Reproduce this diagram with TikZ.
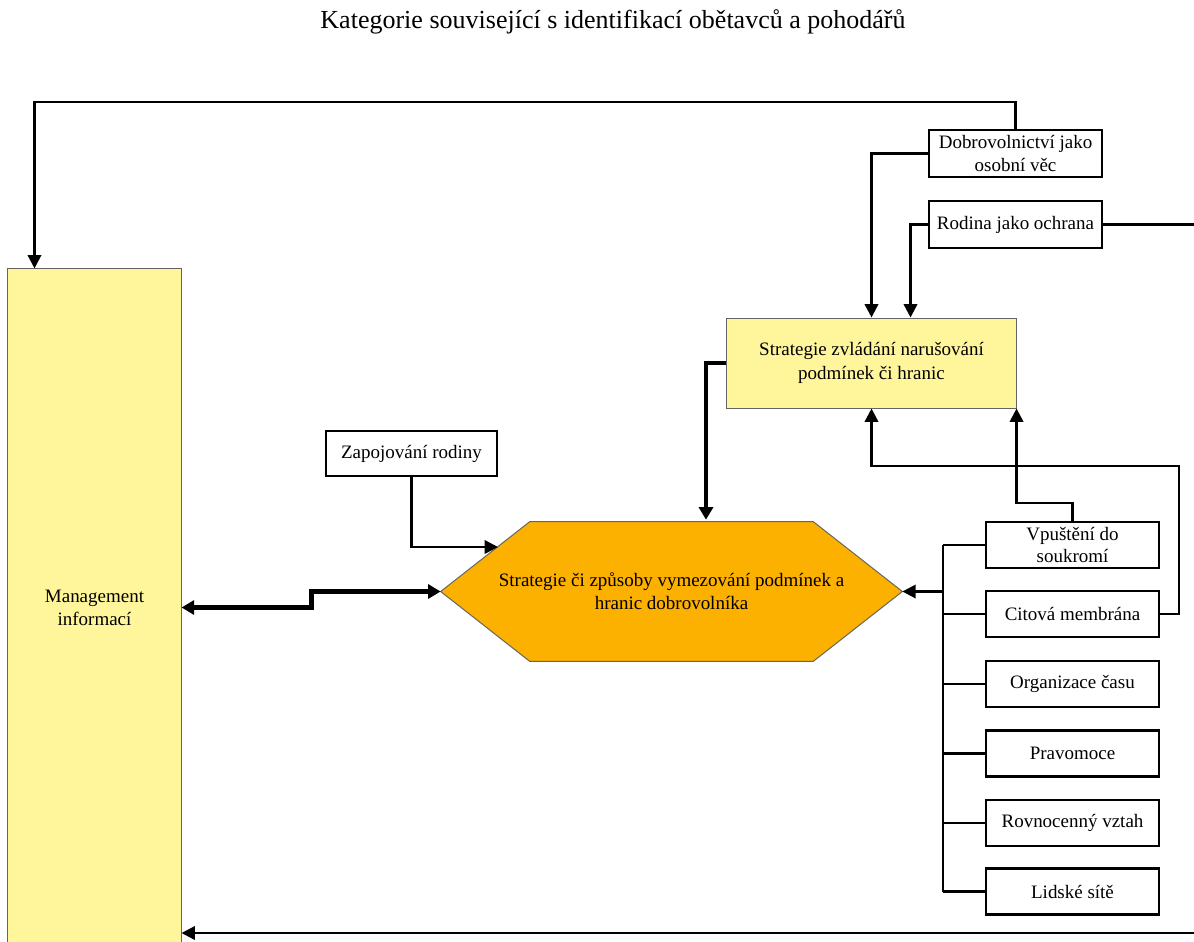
\documentclass[tikz,border=0pt]{standalone}
\usepackage{fontspec}
\setmainfont{Liberation Serif}
\usetikzlibrary{arrows.meta,calc,backgrounds}
\definecolor{pale}{RGB}{255,245,155}
\definecolor{amber}{RGB}{252,176,0}
\definecolor{rim}{RGB}{100,100,100}
\tikzset{
  box/.style={draw,line width=1.6pt,fill=white,minimum width=4.325cm,minimum height=1.15cm,
    inner sep=1pt,align=center,font=\fontsize{13.5}{16}\selectfont},
  yellowbox/.style={draw=rim,line width=0.7pt,fill=pale,inner sep=1pt,align=center,
    font=\fontsize{13.5}{16.5}\selectfont},
  link/.style={line width=1.7pt,-{Triangle[length=9.5pt,width=9.5pt]}},
  plain/.style={line width=1.7pt},
  fatlink/.style={line width=3pt,-{Triangle[length=9pt,width=10pt]}}
}
\begin{document}
\begin{tikzpicture}[x=0.025cm,y=-0.025cm]
\def\dx{89};
\clip (0,0) rectangle (1194,941);
\node[font=\fontsize{18.5}{21}\selectfont] (title) at (613,22) {Kategorie související s identifikací obětavců a pohodářů};
\coordinate (bus) at (943,0);
\coordinate (edge) at (1194,0);
\node[yellowbox,minimum width=4.325cm,minimum height=16.925cm] (mgmt) at (94.5,607.5) {Management\\informací};
\node[yellowbox,minimum width=7.225cm,minimum height=2.25cm] (zvladani) at (871.5,363) {Strategie zvládání narušování\\podmínek či hranic};
\node[align=center,inner sep=0pt,minimum width=11.525cm,minimum height=3.475cm,font=\fontsize{13.5}{16.5}\selectfont] (hex) at (671.5,591.5) {Strategie či způsoby vymezování podmínek a\\hranic dobrovolníka};
\begin{pgfonlayer}{background}
\filldraw[draw=rim,line width=0.7pt,fill=amber] (hex.west) -- ($(hex.north west)+(\dx,0)$) -- ($(hex.north east)+(-\dx,0)$) -- (hex.east) -- ($(hex.south east)+(-\dx,0)$) -- ($(hex.south west)+(\dx,0)$) -- cycle;
\end{pgfonlayer}
\node[box,minimum height=1.175cm] (dobr) at (1015.5,153.5) {Dobrovolnictví jako\\osobní věc};
\node[box,minimum height=1.175cm] (rodina) at (1015.5,224.5) {Rodina jako ochrana};
\node[box,minimum width=4.275cm,minimum height=1.125cm] (zapoj) at (411.5,453.5) {Zapojování rodiny};
\foreach \name/\y/\txt in {vpust/545/{Vpuštění do\\soukromí},citova/614/{Citová membrána},organ/684/{Organizace času},prav/753.5/{Pravomoce},rovn/823/{Rovnocenný vztah},lidske/891.5/{Lidské sítě}} {
  \node[box] (\name) at (1072.5,\y) {\txt};
  \draw[plain] (\name.west) -- (\name.west -| bus);
}
\draw[plain] (vpust.west -| bus) -- (lidske.west -| bus);
\draw[link] (hex.east -| bus) -- (hex.east);
\draw[link] (dobr.north) -- ++(0,-27) -| ($(mgmt.north west)+(27,0)$);
\draw[link] (dobr.west) -| (zvladani.north);
\draw[link] (rodina.west) -| ($(zvladani.north)+(39,0)$);
\draw[plain] (rodina.east) -- (rodina.east -| edge);
\draw[link] (vpust.north) -- ++(0,-18) -| (zvladani.south east);
\draw[link] (citova.east) -- ++(19,0) -- ++(0,-148) -| (zvladani.south);
\draw[link] (zapoj.south) |- (498,547);
\draw[fatlink] (zvladani.west) -| ($(hex.north)+(34.5,-2)$);
\draw[fatlink,{Triangle[length=9pt,width=10pt]}-{Triangle[length=9pt,width=10pt]}] (mgmt.east) -- ++(130,0) |- (hex.west);
\draw[link] (edge |- 0,933) -- (mgmt.east |- 0,933);
\end{tikzpicture}
\end{document}
